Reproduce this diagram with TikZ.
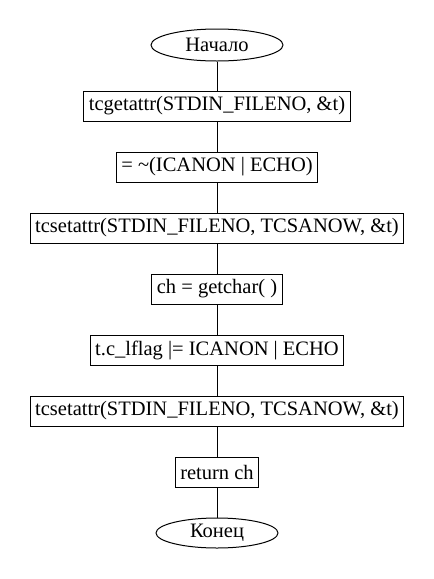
\documentclass[tikz,border=0pt]{standalone}
\usepackage{fontspec}
\setmainfont{Liberation Serif}
\usetikzlibrary{shapes.geometric}
\tikzset{
  proc/.style={draw, line width=1pt, rectangle, inner xsep=5pt, inner ysep=0pt, minimum height=30pt, font=\fontsize{20.5}{24}\selectfont},
  term/.style={draw, line width=1pt, ellipse, inner sep=0pt, font=\fontsize{20.5}{24}\selectfont},
  link/.style={line width=1pt}
}
\begin{document}
\begin{tikzpicture}[x=1pt,y=-1pt]
\useasboundingbox (0,0) rectangle (434,579);
\node[term, minimum width=132pt, minimum height=32pt] (start) at (217,45) {Начало};
\node[proc] (b1) at (217,106) {tcgetattr(STDIN\_FILENO, \&t)};
\node[proc] (b2) at (217,167) {= \textasciitilde(ICANON | ECHO)};
\node[proc] (b3) at (217,228) {tcsetattr(STDIN\_FILENO, TCSANOW, \&t)};
\node[proc] (b4) at (217,289) {ch = getchar( )};
\node[proc] (b5) at (217,350) {t.c\_lflag |= ICANON | ECHO};
\node[proc] (b6) at (217,411) {tcsetattr(STDIN\_FILENO, TCSANOW, \&t)};
\node[proc] (b7) at (217,472) {return ch};
\node[term, minimum width=122pt, minimum height=30pt] (end) at (217,533) {Конец};
\draw[link] (start) -- (b1);
\draw[link] (b1) -- (b2);
\draw[link] (b2) -- (b3);
\draw[link] (b3) -- (b4);
\draw[link] (b4) -- (b5);
\draw[link] (b5) -- (b6);
\draw[link] (b6) -- (b7);
\draw[link] (b7) -- (end);
\end{tikzpicture}
\end{document}
